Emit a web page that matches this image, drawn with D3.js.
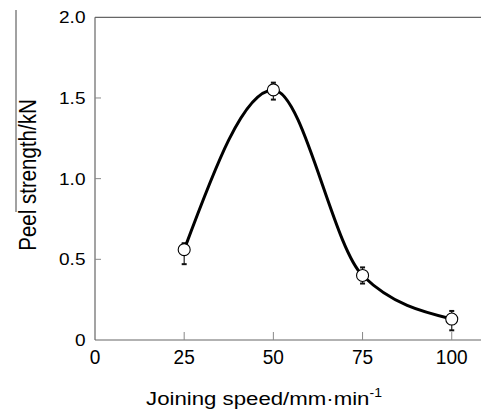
<!DOCTYPE html>
<html>
<script src="https://cdn.jsdelivr.net/npm/d3@7"></script>
<style>
body { margin: 0; background: #fff; }
svg text { font-family: "Liberation Sans", Arial, sans-serif; fill: #000; }
</style>
<body>
<div id="chart"></div>
<script>
// joining speed vs peel strength
var speeds = [25, 50, 75, 100];
var strength = [0.56, 1.55, 0.40, 0.13];
var errLow = [0.47, 1.49, 0.35, 0.06];
var errHigh = [0.60, 1.595, 0.45, 0.18];
var xTicks = [0, 25, 50, 75, 100];
var yTicks = [0, 0.5, 1.0, 1.5, 2.0];
var yTickLabels = ["0", "0.5", "1.0", "1.5", "2.0"];

var W = 481, H = 414;
var svg = d3.select("#chart").append("svg").attr("width", W).attr("height", H);

var x = d3.scaleLinear().domain([0, 108.2]).range([95, 481]);
var y = d3.scaleLinear().domain([0, 2.0]).range([340, 17.3]);

var axisColor = "#666";

// frame: left axis, bottom axis, top line
svg.append("line").attr("x1", x(0)).attr("x2", x(0)).attr("y1", y(2)).attr("y2", y(0))
	.style("stroke", axisColor).style("stroke-width", 1.2);
svg.append("line").attr("x1", x(0)).attr("x2", W).attr("y1", y(0)).attr("y2", y(0))
	.style("stroke", axisColor).style("stroke-width", 1.2);
svg.append("line").attr("x1", x(0)).attr("x2", W).attr("y1", y(2)).attr("y2", y(2))
	.style("stroke", axisColor).style("stroke-width", 1.2);

// y ticks (inward)
svg.selectAll("line.ytick").data(yTicks.slice(1, 4)).enter().append("line")
	.attr("class", "ytick")
	.attr("x1", x(0)).attr("x2", x(0) + 6)
	.attr("y1", function(d){ return y(d); }).attr("y2", function(d){ return y(d); })
	.style("stroke", "#888").style("stroke-width", 1);
svg.selectAll("text.ylab").data(yTicks).enter().append("text")
	.attr("class", "ylab")
	.attr("transform", function(d){ return "translate(85.5," + (y(d) + 6) + ") scale(1.12,1)"; })
	.attr("text-anchor", "end")
	.style("font-size", "17px")
	.text(function(d, i){ return yTickLabels[i]; });

// x ticks (inward)
svg.selectAll("line.xtick").data(xTicks.slice(1)).enter().append("line")
	.attr("class", "xtick")
	.attr("x1", function(d){ return x(d); }).attr("x2", function(d){ return x(d); })
	.attr("y1", y(0)).attr("y2", y(0) - 8)
	.style("stroke", "#888").style("stroke-width", 1);
svg.selectAll("text.xlab").data(xTicks).enter().append("text")
	.attr("class", "xlab")
	.attr("transform", function(d){ return "translate(" + x(d) + ",363.5) scale(0.93,1)"; })
	.attr("text-anchor", "middle")
	.style("font-size", "20.5px")
	.text(function(d){ return d; });

// axis titles
var xt = svg.append("text").attr("transform", "translate(264,405) scale(1.17,1)")
	.attr("text-anchor", "middle")
	.style("font-size", "19px");
xt.append("tspan").text("Joining speed/mm\u00b7min");
xt.append("tspan").attr("dy", -8).style("font-size", "12px").text("-1");

svg.append("text")
	.attr("transform", "translate(35.5,175) scale(1.15,1) rotate(-90)")
	.attr("text-anchor", "middle")
	.style("font-size", "20.5px")
	.text("Peel strength/kN");
svg.append("line").attr("x1", 16).attr("x2", 16).attr("y1", 10).attr("y2", 212)
	.style("stroke", "#444").style("stroke-width", 1);

var pts = speeds.map(function(s, i){
	return {x: s, y: strength[i], lo: errLow[i], hi: errHigh[i]};
});

// error bars
var eb = svg.selectAll("g.err").data(pts).enter().append("g").attr("class", "err");
eb.append("line")
	.attr("x1", function(d){ return x(d.x); }).attr("x2", function(d){ return x(d.x); })
	.attr("y1", function(d){ return y(d.lo); }).attr("y2", function(d){ return y(d.hi); })
	.style("stroke", "#222").style("stroke-width", 1.2);
eb.selectAll("line.cap").data(function(d){ return [[d.x, d.lo], [d.x, d.hi]]; })
	.enter().append("line").attr("class", "cap")
	.attr("x1", function(d){ return x(d[0]) - 2.5; }).attr("x2", function(d){ return x(d[0]) + 2.5; })
	.attr("y1", function(d){ return y(d[1]); }).attr("y2", function(d){ return y(d[1]); })
	.style("stroke", "#111").style("stroke-width", 2);

// fitted curve
var line = d3.line()
	.x(function(d){ return x(d.x); })
	.y(function(d){ return y(d.y); })
	.curve(d3.curveMonotoneX);
svg.append("path").datum(pts).attr("d", line)
	.style("fill", "none").style("stroke", "#000").style("stroke-width", 3);

// markers
svg.selectAll("circle").data(pts).enter().append("circle")
	.attr("cx", function(d){ return x(d.x); })
	.attr("cy", function(d){ return y(d.y); })
	.attr("r", 6)
	.style("fill", "#fff").style("stroke", "#000").style("stroke-width", 1.1);
</script>
</body>
</html>
